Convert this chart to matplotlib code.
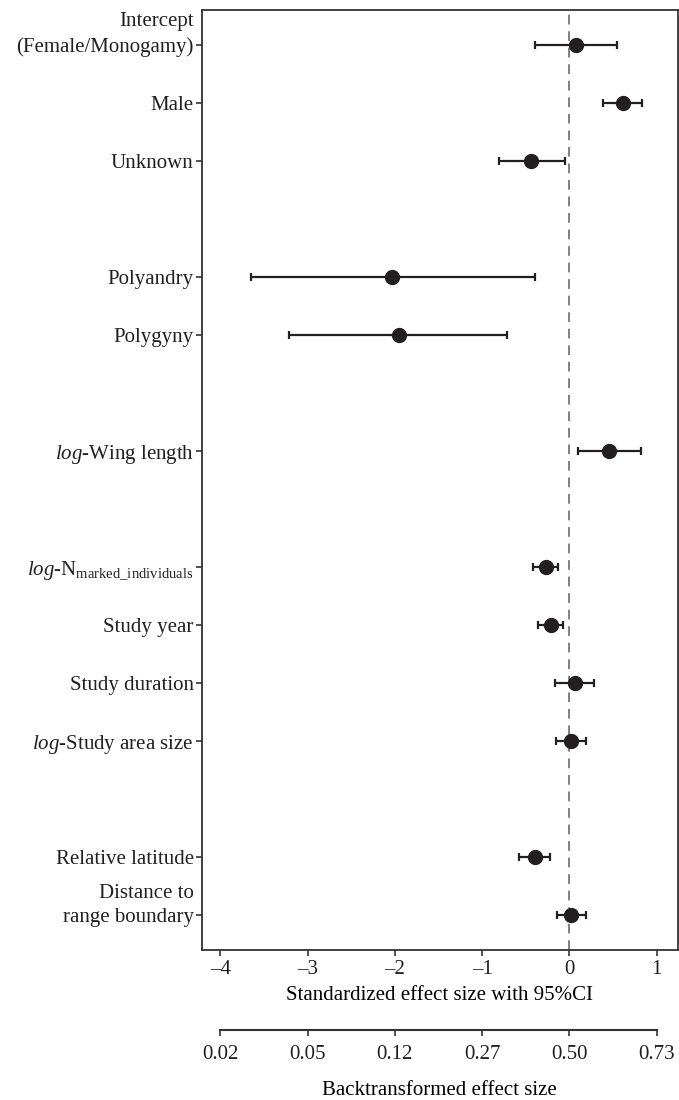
import numpy as np
import matplotlib
matplotlib.use('Agg')
import matplotlib.pyplot as plt
import matplotlib.transforms as mtransforms

# =============================================================================
# data
# =============================================================================
labels = ['Intercept\n(Female/Monogamy)', 'Male', 'Unknown',
          'Polyandry', 'Polygyny',
          r'$\mathit{log}$-Wing length',
          r'$\mathit{log}$-N$_{\mathrm{marked\_individuals}}$',
          'Study year', 'Study duration',
          r'$\mathit{log}$-Study area size',
          'Relative latitude', 'Distance to\nrange boundary']
slots = [0, 1, 2, 4, 5, 7, 9, 10, 11, 12, 14, 15]
est = [0.07, 0.61, -0.44, -2.03, -1.95, 0.45, -0.27, -0.21, 0.06, 0.02, -0.40, 0.02]
lo = [-0.40, 0.39, -0.81, -3.65, -3.21, 0.10, -0.42, -0.36, -0.16, -0.15, -0.58, -0.14]
hi = [0.55, 0.83, -0.05, -0.40, -0.71, 0.82, -0.13, -0.07, 0.28, 0.19, -0.22, 0.19]
xticks = [-4, -3, -2, -1, 0, 1]

# =============================================================================
# style
# =============================================================================
plt.rcParams['font.family'] = ['Liberation Serif', 'DejaVu Serif']
plt.rcParams['mathtext.fontset'] = 'custom'
plt.rcParams['mathtext.rm'] = 'Liberation Serif'
plt.rcParams['mathtext.it'] = 'Liberation Serif:italic'
plt.rcParams['font.size'] = 15

ink = '#231f20'
fig = plt.figure(figsize=(6.79, 11), dpi=100)
ax = fig.add_axes([0.2975, 0.1364, 0.7005, 0.8545])

est = np.array(est)
err = np.vstack([est - np.array(lo), np.array(hi) - est])
ax.axvline(0, color='#808080', linestyle=(0, (5, 3.5)), linewidth=1.4, zorder=1)
ax.errorbar(est, slots, xerr=err, fmt='o', color=ink, ecolor=ink,
            markersize=10, elinewidth=1.6, capsize=3.2, capthick=1.6, zorder=3)

ax.set_xlim(-4.21, 1.24)
ax.set_ylim(15.6, -0.6)
ax.set_xticks(xticks)
ax.set_xticklabels(['\u2013' + str(abs(t)) if t < 0 else str(t) for t in xticks])
ax.set_xlabel('Standardized effect size with 95%CI', labelpad=5)
for s in ax.spines.values():
    s.set_color('#333333')
    s.set_linewidth(1.3)
ax.tick_params(axis='both', color='#333333', length=4, width=1.2, colors=ink)
ax.tick_params(axis='y', pad=2)
ax.set_yticks(slots)
ax.set_yticklabels(labels, linespacing=1.38)
# two-line labels: last line sits on the tick
shift = mtransforms.ScaledTranslation(0, -8.5 / 72, fig.dpi_scale_trans)
for lab in ax.get_yticklabels():
    if '\n' in lab.get_text():
        lab.set_verticalalignment('bottom')
        lab.set_transform(lab.get_transform() + shift)

# backtransformed axis
ax2 = fig.add_axes([0.2975, 0.0636, 0.7005, 0.0001])
ax2.set_xlim(ax.get_xlim())
ax2.set_yticks([])
for k in ['top', 'left', 'right']:
    ax2.spines[k].set_visible(False)
ax2.spines['bottom'].set_bounds(-4, 1)
ax2.spines['bottom'].set_color('#333333')
ax2.spines['bottom'].set_linewidth(1.5)
ax2.patch.set_visible(False)
ax2.set_xticks(xticks)
ax2.set_xticklabels(['%.2f' % (1 / (1 + np.exp(-t))) for t in xticks])
ax2.tick_params(axis='x', color='#333333', length=4, width=1.2, colors=ink, pad=7)
ax2.set_xlabel('Backtransformed effect size', labelpad=12)

fig.savefig('out.png', dpi=100)
